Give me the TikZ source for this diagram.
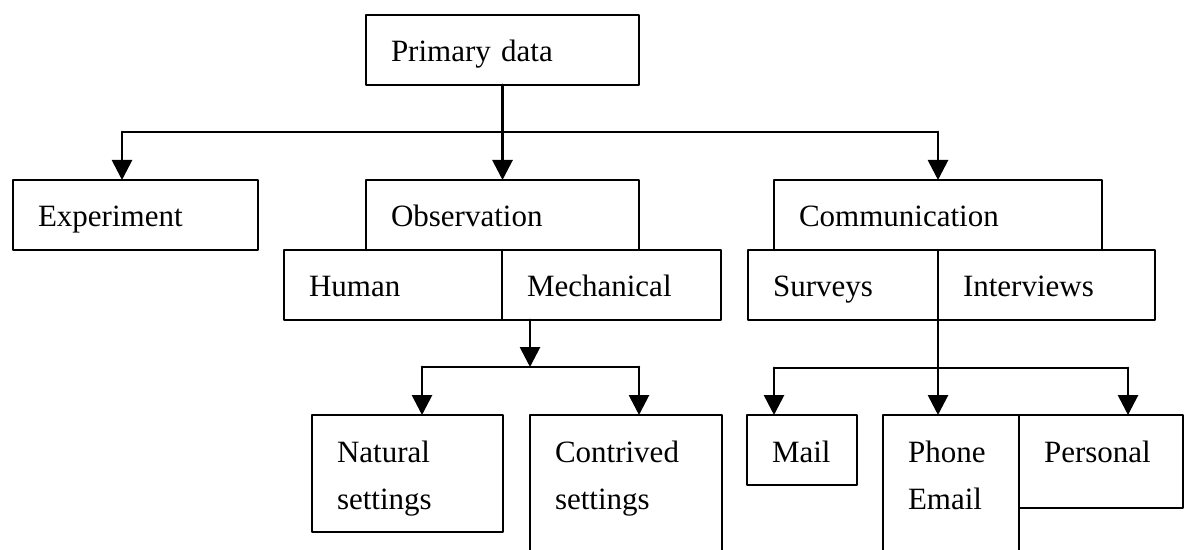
\documentclass[tikz,border=0pt]{standalone}
\usepackage{fontspec}
\setmainfont{Liberation Serif}
\usetikzlibrary{arrows.meta}

\begin{document}
\begin{tikzpicture}[x=0.5pt,y=-0.5pt,line join=round,line cap=round,>={Triangle[length=10pt,width=10pt]}]
	\tikzset{every node/.style={font=\fontsize{15.5pt}{23.5pt}\selectfont},
		box/.style={draw,line width=0.8pt,anchor=north west,align=left,inner xsep=12.5pt,inner ysep=0pt,outer sep=0pt,text height=23.5pt,text depth=11.5pt},
		bus/.style={line width=0.9pt},
		thickbus/.style={line width=1.3pt},
		arr/.style={->,line width=1.4pt}}
	\clip (0,0) rectangle (1186,550);
	% first levels
	\node[box,text width=111.5pt] (prim) at (366,15) {Primary data};
	\node[box,text width=97.5pt] (exp) at (13,180) {Experiment};
	\node[box,text width=111.5pt] (obs) at (366,180) {Observation};
	\node[box,text width=139pt] (comm) at (774,180) {Communication};
	\node[box,text width=84pt] (hum) at (284,250) {Human};
	\node[box,text width=84.5pt] (mech) at (502,250) {Mechanical};
	\node[box,text width=70pt] (surv) at (748,250) {Surveys};
	\node[box,text width=83.5pt] (intv) at (938,250) {Interviews};
	% last level
	\node[box,text width=70.5pt,text depth=35pt] (nat) at (312,415) {Natural\\settings};
	\node[box,text width=71pt,text depth=60pt] (con) at (530,415) {Contrived\\settings};
	\node[box,text width=30pt] (mail) at (747,415) {Mail};
	\node[box,text width=43pt,text depth=60pt] (phone) at (883,415) {Phone\\Email};
	\node[box,text width=57pt,text depth=23pt] (pers) at (1019,415) {Personal};
	% connectors
	\coordinate (busL) at (122,132);
	\coordinate (busR) at (938,132);
	\draw[bus] (busL) -- (busR);
	\draw[arr] (prim) -- (obs);
	\draw[arr] (busL) -- (busL |- exp.north);
	\draw[arr] (busR) -- (busR |- comm.north);
	\coordinate (mbus) at (530,367);
	\coordinate (mL) at (422,367);
	\coordinate (mR) at (639,367);
	\draw[arr] (mbus |- mech.south) -- (mbus);
	\draw[thickbus] (mL) -- (mR);
	\draw[arr] (mL) -- (mL |- nat.north);
	\draw[arr] (mR) -- (mR |- con.north);
	\coordinate (cL) at (774,368);
	\coordinate (cR) at (1128,368);
	\draw[thickbus] (cL) -- (cR);
	\draw[arr] (surv.south east) -- (surv.south east |- phone.north);
	\draw[arr] (cL) -- (cL |- mail.north);
	\draw[arr] (cR) -- (cR |- pers.north);
\end{tikzpicture}
\end{document}
